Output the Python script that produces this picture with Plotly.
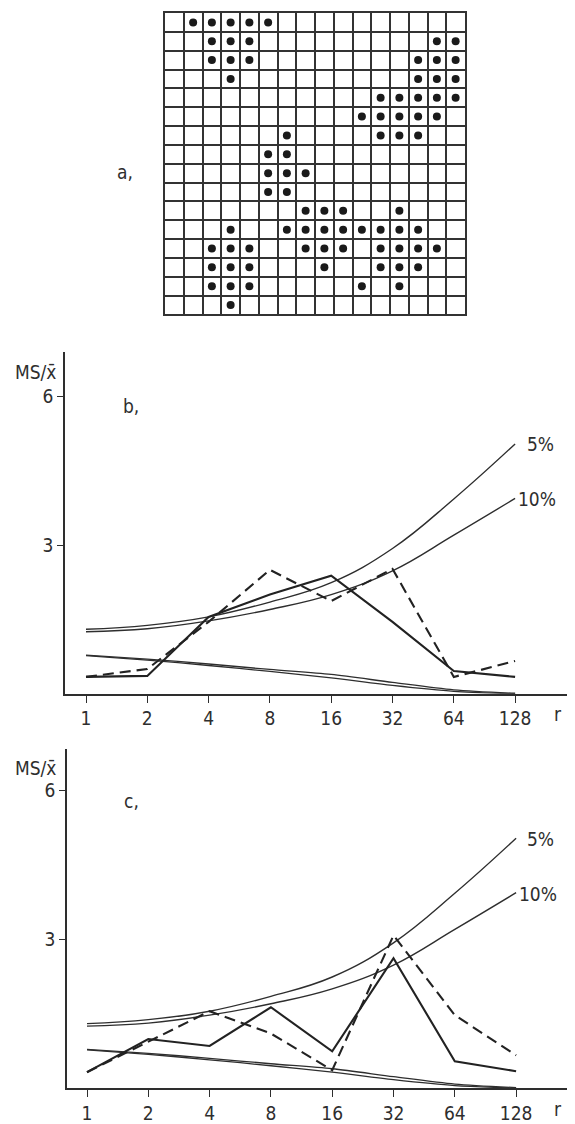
import plotly.graph_objects as go
import math

# ---------------- data ----------------
# panel a: occupied cells of a 16 x 16 grid, row index (top=0) -> list of column indices
occupied = {
    0: [1, 2, 3, 4, 5],
    1: [2, 3, 4, 14, 15],
    2: [2, 3, 4, 13, 14, 15],
    3: [3, 13, 14, 15],
    4: [11, 12, 13, 14, 15],
    5: [10, 11, 12, 13, 14],
    6: [6, 11, 12, 13],
    7: [5, 6],
    8: [5, 6, 7],
    9: [5, 6],
    10: [7, 8, 9, 12],
    11: [3, 6, 7, 8, 9, 10, 11, 12, 13],
    12: [2, 3, 4, 7, 8, 9, 11, 12, 13, 14],
    13: [2, 3, 4, 8, 11, 12, 13],
    14: [2, 3, 4, 10, 12],
    15: [3],
}

# panels b, c
r = [1, 2, 4, 8, 16, 32, 64, 128]
upper_5 = [1.30, 1.38, 1.55, 1.85, 2.24, 2.93, 3.93, 5.04]
upper_10 = [1.25, 1.31, 1.47, 1.70, 2.00, 2.48, 3.20, 3.94]
lower_a = [0.77, 0.68, 0.57, 0.45, 0.32, 0.17, 0.05, 0.00]
lower_b = [0.78, 0.70, 0.60, 0.49, 0.39, 0.23, 0.08, 0.01]

b_solid = [0.34, 0.36, 1.55, 2.00, 2.38, 1.45, 0.46, 0.34]
b_dashed = [0.34, 0.50, 1.45, 2.50, 1.87, 2.52, 0.34, 0.66]

c_solid = [0.32, 0.99, 0.85, 1.63, 0.74, 2.62, 0.54, 0.34]
c_dashed = [0.32, 0.93, 1.55, 1.10, 0.36, 3.08, 1.47, 0.66]

y_ticks = [3, 6]
x_ticks = r
x_ticklabels = [str(v) for v in r]

# ---------------- layout helpers ----------------
PAGE_W, PAGE_H = 575, 1124
OFF = 8                      # default body margin of the written html page
W, H = PAGE_W - OFF, PAGE_H - OFF
INK = "#2e2e2e"
FONT = "DejaVu Sans Condensed, Liberation Sans Narrow, Roboto Condensed, DejaVu Sans, sans-serif"


def px(x):
    return (x - OFF) / W


def py(y):
    return 1 - (y - OFF) / H


fig = go.Figure()

# ---- panel a ----
dx, dy = [], []
for row, cols in occupied.items():
    for c in cols:
        dx.append(c)
        dy.append(row)
fig.add_trace(go.Scatter(x=dx, y=dy, mode="markers", xaxis="x3", yaxis="y3",
                         marker=dict(size=8, color="#1a1a1a"), showlegend=False,
                         hoverinfo="skip"))

grid_axis = dict(showgrid=True, gridcolor="#333333", gridwidth=1.6, tickmode="linear",
                 tick0=0.5, dtick=1, showticklabels=False, ticks="", zeroline=False,
                 showline=True, linecolor="#333333", linewidth=1.8, mirror=True,
                 fixedrange=True)


def add_panel(xa, ya, solid, dashed):
    kw = dict(xaxis=xa, yaxis=ya, mode="lines", showlegend=False, hoverinfo="skip")
    for ys in (upper_5, upper_10):
        fig.add_trace(go.Scatter(x=r, y=ys, line=dict(color=INK, width=1.4, shape="spline", smoothing=1.2), **kw))
    for ys in (lower_a, lower_b):
        fig.add_trace(go.Scatter(x=r, y=ys, line=dict(color=INK, width=1.3, shape="spline", smoothing=0.8), **kw))
    fig.add_trace(go.Scatter(x=r, y=solid, line=dict(color="#222", width=2.1), **kw))
    fig.add_trace(go.Scatter(x=r, y=dashed, line=dict(color="#222", width=2.1, dash="11px,6px"), **kw))


add_panel("x", "y", b_solid, b_dashed)
add_panel("x2", "y2", c_solid, c_dashed)

# pixel geometry of the two graphs (reference page pixels)
PER_DOUBLING = 61.3
b_axis_x, b_r1_x, b_base_y, b_top_y, b_six_y = 65, 86, 695, 353, 397
c_axis_x, c_r1_x, c_base_y, c_top_y, c_six_y = 67, 87, 1090, 750, 792


def xrange(axis_x, r1_x):
    lo = (axis_x - r1_x) / PER_DOUBLING * math.log10(2)
    hi = (PAGE_W - r1_x) / PER_DOUBLING * math.log10(2)
    return [lo, hi]


def yrange(base_y, top_y, six_y):
    per = (base_y - six_y) / 6
    return [0, (base_y - top_y) / per]


common_x = dict(type="log", tickmode="array", tickvals=x_ticks, ticktext=x_ticklabels,
                ticks="outside", ticklen=7, tickwidth=1.3, tickcolor=INK,
                showline=True, linecolor=INK, linewidth=1.5, showgrid=False, zeroline=False,
                tickfont=dict(family=FONT, size=19, color=INK), fixedrange=True)
common_y = dict(tickmode="array", tickvals=y_ticks, ticks="outside", ticklen=6, tickwidth=1.3,
                tickcolor=INK, showline=True, linecolor=INK, linewidth=1.5, showgrid=False,
                zeroline=False, tickfont=dict(family=FONT, size=19, color=INK), fixedrange=True)

fig.update_layout(
    width=W, height=H, margin=dict(l=0, r=0, t=0, b=0),
    paper_bgcolor="white", plot_bgcolor="white", showlegend=False,
    xaxis=dict(domain=[px(b_axis_x), 1], range=xrange(b_axis_x, b_r1_x), anchor="y", **common_x),
    yaxis=dict(domain=[py(b_base_y), py(b_top_y)], range=yrange(b_base_y, b_top_y, b_six_y), anchor="x", **common_y),
    xaxis2=dict(domain=[px(c_axis_x), 1], range=xrange(c_axis_x, c_r1_x), anchor="y2", **common_x),
    yaxis2=dict(domain=[py(c_base_y), py(c_top_y)], range=yrange(c_base_y, c_top_y, c_six_y), anchor="x2", **common_y),
    xaxis3=dict(domain=[px(165), px(465)], range=[-0.5, 15.5], anchor="y3", **grid_axis),
    yaxis3=dict(domain=[py(315), py(13)], range=[15.5, -0.5], anchor="x3", **grid_axis),
)

labels = [
    ("a,", 125, 172, 19), ("MS/x̄", 35, 373, 19), ("b,", 131, 407, 19), ("5%", 540, 445, 19),
    ("10%", 537, 500, 19), ("r", 558, 715, 19),
    ("MS/x̄", 35, 769, 19), ("c,", 131, 802, 19), ("5%", 540, 840, 19), ("10%", 538, 896, 19),
    ("r", 558, 1111, 19),
]
for text, x, y, size in labels:
    fig.add_annotation(text=text, x=px(x), y=py(y), xref="paper", yref="paper",
                       showarrow=False, xanchor="center", yanchor="middle",
                       font=dict(family=FONT, size=size, color=INK))

fig.write_html("out.html")
